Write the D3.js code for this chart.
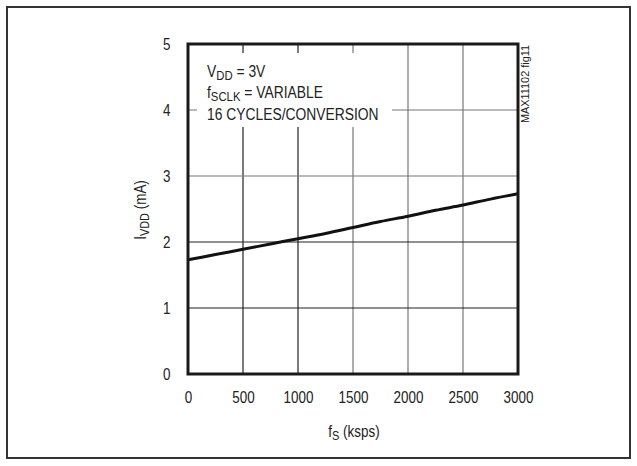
<!DOCTYPE html>
<html><head><meta charset="utf-8">
<script src="https://cdn.jsdelivr.net/npm/d3@7"></script>
<style>
html,body{margin:0;padding:0;background:#fff;}
text{font-family:"Liberation Sans",Arial,sans-serif;fill:#222;}
</style></head>
<body><svg id="c" width="637" height="466"></svg>
<script>
const fsKsps = [0, 250, 500, 750, 1000, 1250, 1500, 1750, 2000, 2250, 2500, 2750, 3000];
const ivddMA = [1.73, 1.81, 1.89, 1.97, 2.05, 2.13, 2.22, 2.31, 2.39, 2.48, 2.56, 2.65, 2.73];
const xTicks = [0, 500, 1000, 1500, 2000, 2500, 3000];
const yTicks = [0, 1, 2, 3, 4, 5];

const SX = 0.84; // narrow font emulation
const svg = d3.select("#c");
const L = 188, R = 518, T = 44, B = 374;
const x = d3.scaleLinear().domain([0, 3000]).range([L, R]);
const y = d3.scaleLinear().domain([0, 5]).range([B, T]);

// outer border
svg.append("rect").attr("x", 7).attr("y", 7).attr("width", 623).attr("height", 451)
  .attr("fill", "none").attr("stroke", "#333").attr("stroke-width", 2);

// grid
const g = svg.append("g");
g.selectAll(".vx").data(xTicks.slice(1, -1)).enter().append("line")
  .attr("x1", d => x(d)).attr("x2", d => x(d)).attr("y1", T).attr("y2", B)
  .attr("stroke", d => d <= 1000 ? "#222" : "#777").attr("stroke-width", 1.2);
g.selectAll(".hy").data(yTicks.slice(1, -1)).enter().append("line")
  .attr("y1", d => y(d)).attr("y2", d => y(d)).attr("x1", L).attr("x2", R)
  .attr("stroke", d => d <= 2 ? "#222" : "#777").attr("stroke-width", 1.2);

// text box background
svg.append("rect").attr("x", 197).attr("y", 53).attr("width", 195).attr("height", 74).attr("fill", "#fff");

function sub(t, main, s, rest, fs) {
  t.append("tspan").text(main);
  t.append("tspan").attr("font-size", fs).attr("dy", 3).text(s);
  t.append("tspan").attr("dy", -3).text(rest);
}
function ntext(px, py, size) {
  return svg.append("text").attr("transform", `translate(${px},${py}) scale(${SX},1)`).attr("font-size", size);
}
sub(ntext(207, 77, 16.5), "V", "DD", " = 3V", 13.5);
sub(ntext(207, 98, 16.5), "f", "SCLK", " = VARIABLE", 13.5);
ntext(207, 120, 16.5).text("16 CYCLES/CONVERSION");

// curve
const line = d3.line().x((d, i) => x(fsKsps[i])).y(d => y(d)).curve(d3.curveMonotoneX);
svg.append("path").datum(ivddMA).attr("d", line).attr("fill", "none")
  .attr("stroke", "#111").attr("stroke-width", 3).attr("stroke-linejoin", "round");

// frame
svg.append("rect").attr("x", L).attr("y", T).attr("width", R - L).attr("height", B - T)
  .attr("fill", "none").attr("stroke", "#1a1a1a").attr("stroke-width", 3);

// axes labels
const xa = d3.axisBottom(x).tickValues(xTicks).tickSize(0).tickPadding(18).tickFormat(d => String(d));
const xg = svg.append("g").attr("transform", `translate(0,${B})`).call(xa);
xg.select(".domain").remove();
xg.selectAll("text").attr("font-size", 16).attr("font-family", null).attr("fill", "#222")
  .attr("transform", `scale(${SX},1)`);
const ya = d3.axisLeft(y).tickValues(yTicks).tickSize(0).tickPadding(21).tickFormat(d => String(d));
const yg = svg.append("g").attr("transform", `translate(${L},0)`).call(ya);
yg.select(".domain").remove();
yg.selectAll("text").attr("font-size", 16).attr("font-family", null).attr("fill", "#222")
  .attr("transform", `scale(${SX},1)`);

// axis titles
const xt = svg.append("text").attr("transform", `translate(354,437) scale(${SX},1)`)
  .attr("text-anchor", "middle").attr("font-size", 16);
sub(xt, "f", "S", " (ksps)", 13);
const yt = svg.append("text").attr("transform", `translate(146,210) rotate(-90) scale(${SX},1)`)
  .attr("text-anchor", "middle").attr("font-size", 16);
sub(yt, "I", "VDD", " (mA)", 13);

// figure id
svg.append("text").attr("transform", "translate(529,123) rotate(-90)").attr("font-size", 10.5)
  .attr("textLength", 78).attr("lengthAdjust", "spacingAndGlyphs").text("MAX11102 fig11");
</script></body></html>
